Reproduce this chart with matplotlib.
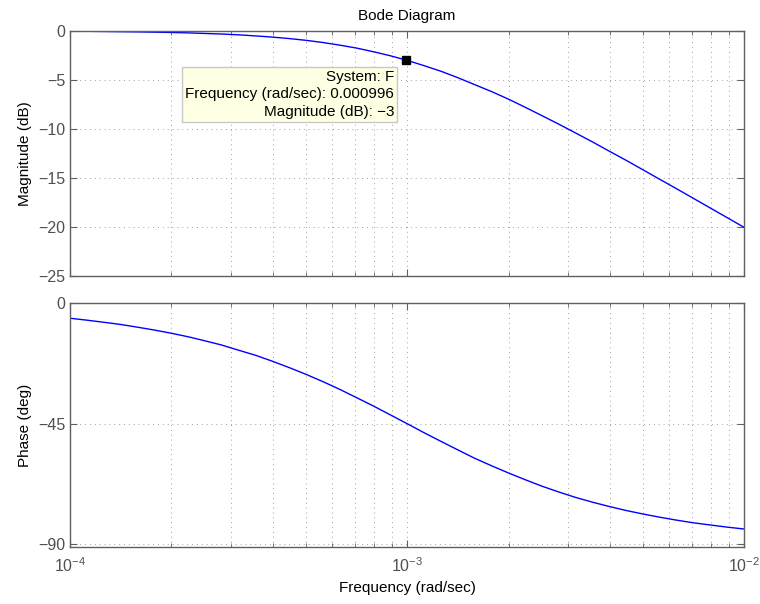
import matplotlib
matplotlib.use("Agg")
import matplotlib.pyplot as plt
from matplotlib.ticker import LogLocator, NullFormatter

# Frequency response readings of system F
freq = [1.00e-4, 1.12e-4, 1.26e-4, 1.41e-4, 1.58e-4, 1.78e-4, 2.00e-4,
        2.24e-4, 2.51e-4, 2.82e-4, 3.16e-4, 3.55e-4, 3.98e-4, 4.47e-4,
        5.01e-4, 5.62e-4, 6.31e-4, 7.08e-4, 7.94e-4, 8.91e-4, 1.00e-3,
        1.12e-3, 1.26e-3, 1.41e-3, 1.58e-3, 1.78e-3, 2.00e-3, 2.24e-3,
        2.51e-3, 2.82e-3, 3.16e-3, 3.55e-3, 3.98e-3, 4.47e-3, 5.01e-3,
        5.62e-3, 6.31e-3, 7.08e-3, 7.94e-3, 8.91e-3, 1.00e-2]
mag_db = [-0.04, -0.05, -0.07, -0.09, -0.11, -0.14, -0.17, -0.21, -0.27,
          -0.33, -0.41, -0.52, -0.64, -0.79, -0.97, -1.19, -1.46, -1.76,
          -2.13, -2.54, -3.01, -3.54, -4.12, -4.76, -5.46, -6.19, -6.97,
          -7.79, -8.64, -9.52, -10.41, -11.33, -12.27, -13.21, -14.17,
          -15.14, -16.11, -17.09, -18.07, -19.05, -20.04]
phase_deg = [-5.7, -6.4, -7.2, -8.0, -9.0, -10.1, -11.3, -12.6, -14.1,
             -15.7, -17.6, -19.5, -21.7, -24.1, -26.6, -29.3, -32.2,
             -35.3, -38.4, -41.7, -45.0, -48.3, -51.6, -54.7, -57.8,
             -60.7, -63.4, -65.9, -68.3, -70.5, -72.5, -74.3, -75.9,
             -77.4, -78.7, -79.9, -81.0, -82.0, -82.8, -83.6, -84.3]

tip_freq = 0.000996
tip_mag = -3

plt.rcParams['font.family'] = ['Liberation Sans', 'DejaVu Sans']
plt.rcParams['axes.unicode_minus'] = True

fig = plt.figure(figsize=(7.6, 6.04), dpi=100)
ax1 = fig.add_axes([0.0921, 0.543, 0.887, 0.406])
ax2 = fig.add_axes([0.0921, 0.0944, 0.887, 0.404])

edge = '#606060'
for ax in (ax1, ax2):
    ax.set_xscale('log')
    ax.set_xlim(1e-4, 1e-2)
    ax.xaxis.set_major_locator(LogLocator(base=10, numticks=10))
    ax.xaxis.set_minor_locator(LogLocator(base=10, subs=range(2, 10), numticks=10))
    ax.xaxis.set_minor_formatter(NullFormatter())
    ax.tick_params(which='both', direction='in', top=True, right=True,
                   colors=edge, labelcolor='#505050', labelsize=11.5)
    ax.tick_params(which='major', length=5)
    ax.tick_params(which='minor', length=3)
    for s in ax.spines.values():
        s.set_color(edge)
        s.set_linewidth(1.0)
    ax.grid(True, which='both', axis='x', color='#a0a0a0',
            linestyle=(0, (1, 4)), linewidth=0.7)
    ax.grid(True, which='major', axis='y', color='#a0a0a0',
            linestyle=(0, (1, 4)), linewidth=0.7)

# magnitude
ax1.plot(freq, mag_db, color='blue', linewidth=1.0)
ax1.set_ylim(-25, 0)
ax1.set_yticks([0, -5, -10, -15, -20, -25])
ax1.tick_params(axis='x', labelbottom=False)
ax1.set_ylabel('Magnitude (dB)', fontsize=11)
ax1.set_title('Bode Diagram', fontsize=11, pad=8)

# data tip
ax1.plot([tip_freq], [tip_mag], marker='s', color='black', markersize=6)
ax1.text(0.000915, -8.95, 'System: F\nFrequency (rad/sec): %g\nMagnitude (dB): \u22123' % tip_freq,
         ha='right', va='bottom', fontsize=11, linespacing=1.3,
         bbox=dict(boxstyle='square,pad=0.2', facecolor='#ffffe3',
                   edgecolor='#c8c8c8', linewidth=1.0))

# phase
ax2.plot(freq, phase_deg, color='blue', linewidth=1.0)
ax2.set_ylim(-91, 0)
ax2.set_yticks([0, -45, -90])
ax2.set_ylabel('Phase (deg)', fontsize=11)
ax2.set_xlabel('Frequency (rad/sec)', fontsize=11)
ax2.tick_params(axis='x', pad=7)

fig.align_ylabels([ax1, ax2])
fig.savefig('out.png', dpi=100)
